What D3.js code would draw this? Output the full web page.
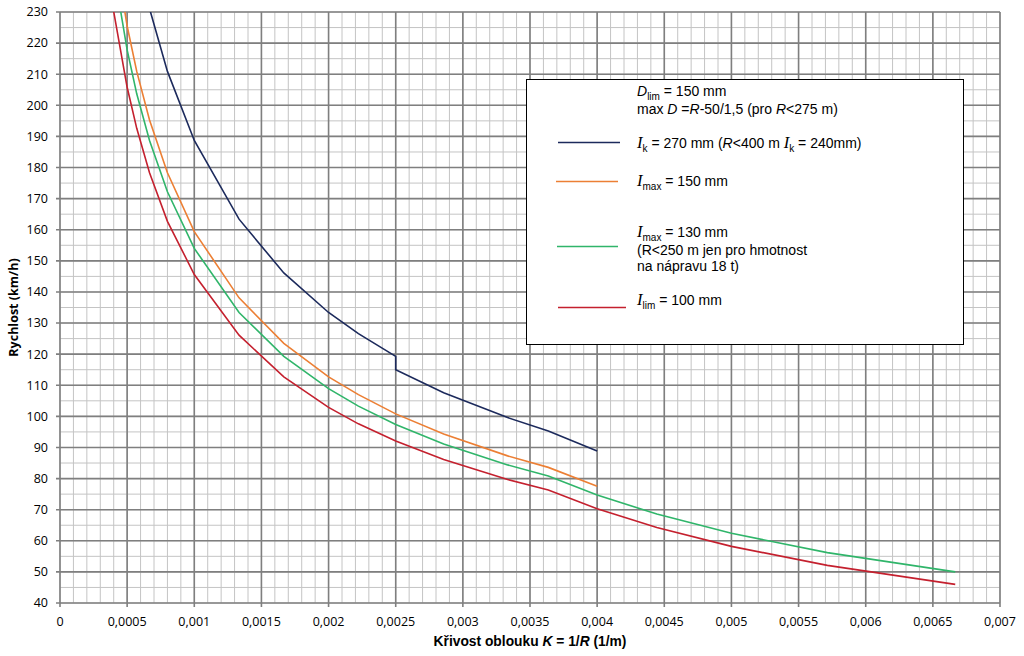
<!DOCTYPE html>
<html>
<head>
<meta charset="utf-8">
<script src="https://cdn.jsdelivr.net/npm/d3@7"></script>
<style>
  body { margin: 0; background: #fff; }
  svg text { fill: #000; }
</style>
</head>
<body>
<div id="chart"></div>
<script>
// radii (m) of the computed points, K = 1/R
const radii = [3000, 2500, 2000, 1750, 1500, 1250, 1000, 750, 600, 500, 450, 400, 350, 300, 275, 250, 225, 200, 175, 150];
const radiiBlue = [2000, 1750, 1500, 1250, 1000, 750, 600, 500, 450, 400, 400, 350, 300, 275, 250];

// speeds (km/h)
const speedRed = [252.1, 230.1, 205.8, 192.6, 178.3, 162.7, 145.6, 126.1, 112.7, 102.9, 97.6, 92.1, 86.1, 79.7, 76.3, 70.3, 64.3, 58.2, 52.1, 46.0];
const speedGreen = [266.8, 243.6, 217.8, 203.7, 188.7, 172.2, 154.0, 133.4, 119.3, 108.9, 103.3, 97.4, 91.1, 84.4, 80.8, 74.7, 68.6, 62.4, 56.2, 50.0];
const speedOrange = [276.2, 252.1, 225.5, 210.9, 195.3, 178.3, 159.4, 138.1, 123.5, 112.7, 107.0, 100.8, 94.3, 87.3, 83.6, 77.5];
const speedBlue = [266.8, 249.6, 231.1, 210.9, 188.7, 163.4, 146.1, 133.4, 126.6, 119.3, 115.0, 107.6, 99.6, 95.3, 88.9];

const xTicks = [0, 0.0005, 0.001, 0.0015, 0.002, 0.0025, 0.003, 0.0035, 0.004, 0.0045, 0.005, 0.0055, 0.006, 0.0065, 0.007];
const yTicks = [40, 50, 60, 70, 80, 90, 100, 110, 120, 130, 140, 150, 160, 170, 180, 190, 200, 210, 220, 230];

const W = 1024, H = 656;
const pL = 60, pR = 1000, pT = 12, pB = 603;

const svg = d3.select("#chart").append("svg")
    .attr("width", W)
    .attr("height", H);

const x = d3.scaleLinear().domain([0, 0.007]).range([pL, pR]);
const y = d3.scaleLinear().domain([40, 230]).range([pB, pT]);

// minor grid
const minorX = d3.range(0, 71).map(d => d * 0.0001);
const minorY = d3.range(40, 231, 5);
const grid = svg.append("g");
grid.selectAll("line.mx")
    .data(minorX)
    .enter().append("line")
    .attr("x1", d => x(d)).attr("x2", d => x(d))
    .attr("y1", pT).attr("y2", pB)
    .attr("stroke", "#c4c4c4").attr("stroke-width", 1);
grid.selectAll("line.my")
    .data(minorY)
    .enter().append("line")
    .attr("x1", pL).attr("x2", pR)
    .attr("y1", d => y(d)).attr("y2", d => y(d))
    .attr("stroke", "#c4c4c4").attr("stroke-width", 1);

// major grid
grid.selectAll("line.Mx")
    .data(xTicks)
    .enter().append("line")
    .attr("x1", d => x(d)).attr("x2", d => x(d))
    .attr("y1", pT).attr("y2", pB + 4)
    .attr("stroke", "#7f7f7f").attr("stroke-width", 1.6);
grid.selectAll("line.My")
    .data(yTicks)
    .enter().append("line")
    .attr("x1", pL - 4).attr("x2", pR)
    .attr("y1", d => y(d)).attr("y2", d => y(d))
    .attr("stroke", "#7f7f7f").attr("stroke-width", 1.6);

// tick labels
const fmt = d => String(d).replace(".", ",");
svg.append("g").selectAll("text")
    .data(xTicks)
    .enter().append("text")
    .attr("x", d => x(d))
    .attr("y", 626)
    .attr("text-anchor", "middle")
    .style("font", "12.5px 'Open Sans', sans-serif")
    .text(d => d === 0 ? "0" : fmt(d));
svg.append("g").selectAll("text")
    .data(yTicks)
    .enter().append("text")
    .attr("x", 48)
    .attr("y", d => y(d))
    .attr("dy", "0.35em")
    .attr("text-anchor", "end")
    .style("font", "12.5px 'Open Sans', sans-serif")
    .text(d => d);

// axis titles
svg.append("text")
    .attr("transform", "translate(18," + ((pT + pB) / 2) + ") rotate(-90)")
    .attr("text-anchor", "middle")
    .style("font", "bold 12.5px 'Open Sans', sans-serif")
    .text("Rychlost (km/h)");

const xt = svg.append("text")
    .attr("x", 530).attr("y", 646)
    .attr("text-anchor", "middle")
    .style("font", "bold 13.8px 'Liberation Sans', Arial, sans-serif");
xt.append("tspan").text("Křivost oblouku ");
xt.append("tspan").style("font-style", "italic").text("K");
xt.append("tspan").text(" = 1/");
xt.append("tspan").style("font-style", "italic").text("R");
xt.append("tspan").text(" (1/m)");

// curves
svg.append("clipPath").attr("id", "plot")
    .append("rect").attr("x", pL).attr("y", pT)
    .attr("width", pR - pL).attr("height", pB - pT);

const line = d3.line()
    .x(d => x(1 / d[0]))
    .y(d => y(d[1]));

const series = [
    { r: radiiBlue, v: speedBlue, color: "#1c2a5c" },
    { r: radii, v: speedOrange, color: "#ec7f34" },
    { r: radii, v: speedGreen, color: "#30b56a" },
    { r: radii, v: speedRed, color: "#c4202e" }
];

const curves = svg.append("g").attr("clip-path", "url(#plot)");
series.forEach(s => {
    curves.append("path")
        .datum(s.v.map((v, i) => [s.r[i], v]))
        .attr("fill", "none")
        .attr("stroke", s.color)
        .attr("stroke-width", 1.6)
        .attr("d", line);
});

// legend
const lg = svg.append("g");
lg.append("rect")
    .attr("x", 526.5).attr("y", 79.5)
    .attr("width", 437).attr("height", 265)
    .attr("fill", "#fff").attr("stroke", "#000").attr("stroke-width", 1);

const sans = "14px 'Liberation Sans', Arial, sans-serif";
const serif = "italic 16.5px 'Liberation Serif', 'Times New Roman', serif";
const tx = 637;

function addText(yy, parts) {
    const t = lg.append("text").attr("x", tx).attr("y", yy).style("font", sans);
    parts.forEach(p => {
        const sp = t.append("tspan").text(p.t);
        if (p.serif) sp.style("font", serif);
        if (p.it) sp.style("font-style", "italic");
        if (p.sub) sp.attr("dy", 3.5).style("font-size", "10px");
        if (p.up) sp.attr("dy", -3.5);
    });
}

addText(96, [{ t: "D", it: true }, { t: "lim", sub: true }, { t: " = 150 mm", up: true }]);
addText(114, [{ t: "max " }, { t: "D", it: true }, { t: " =" }, { t: "R", it: true }, { t: "-50/1,5 (pro " }, { t: "R", it: true }, { t: "<275 m)" }]);
addText(148, [{ t: "I", serif: true }, { t: "k", sub: true }, { t: " = 270 mm (", up: true }, { t: "R", it: true }, { t: "<400 m " }, { t: "I", serif: true }, { t: "k", sub: true }, { t: " = 240mm)", up: true }]);
addText(186, [{ t: "I", serif: true }, { t: "max", sub: true }, { t: " = 150 mm", up: true }]);
addText(237, [{ t: "I", serif: true }, { t: "max", sub: true }, { t: " = 130 mm", up: true }]);
addText(255, [{ t: "(R<250 m jen pro hmotnost" }]);
addText(271, [{ t: "na nápravu 18 t)" }]);
addText(305, [{ t: "I", serif: true }, { t: "lim", sub: true }, { t: " = 100 mm", up: true }]);

const legendLines = [
    { y: 142.5, x1: 558, x2: 620, color: series[0].color },
    { y: 181.5, x1: 556, x2: 618, color: series[1].color },
    { y: 246.5, x1: 557, x2: 618, color: series[2].color },
    { y: 307.5, x1: 558, x2: 626, color: series[3].color }
];
lg.selectAll("line")
    .data(legendLines)
    .enter().append("line")
    .attr("x1", d => d.x1).attr("x2", d => d.x2)
    .attr("y1", d => d.y).attr("y2", d => d.y)
    .attr("stroke", d => d.color).attr("stroke-width", 1.4);
</script>
</body>
</html>
